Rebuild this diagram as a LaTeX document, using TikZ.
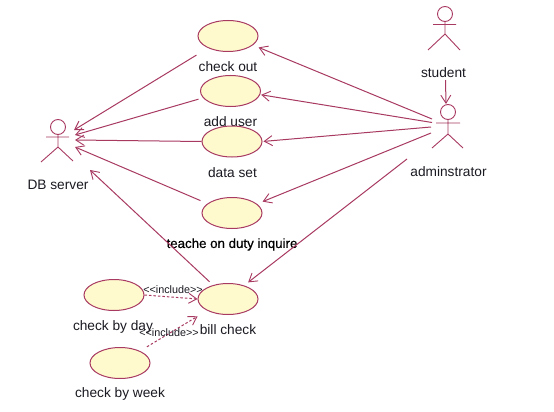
\documentclass[tikz,border=0pt]{standalone}
\usepackage{fontspec}
\setmainfont[Ligatures=NoCommon]{Liberation Sans}
\newfontfamily\incfont[Mapping=]{Liberation Sans}
\newfontfamily\heavyfont[FakeBold=0.5]{Liberation Sans}
\usetikzlibrary{arrows.meta,shapes.geometric}
\definecolor{umlline}{HTML}{A83A62}
\definecolor{umlfill}{HTML}{FFFACD}
\definecolor{umltext}{HTML}{1A1A22}
\tikzset{
  usecase/.style={ellipse,draw=umlline,fill=umlfill,line width=1pt,minimum width=60pt,minimum height=31pt,inner sep=0pt},
  actorhead/.style={circle,draw=umlline,line width=0.9pt,minimum size=15pt,inner sep=0pt},
  limb/.style={draw=umlline,line width=0.9pt},
  lbl/.style={font=\fontsize{13.7}{16}\selectfont,text=umltext,inner sep=0pt},
  inclbl/.style={font=\incfont\fontsize{10.8}{13}\selectfont,text=umltext,inner sep=0pt},
  assoc/.style={draw=umlline,line width=1pt,-{Straight Barb[length=8pt,width=10pt,line width=0.9pt]}},
  dep/.style={assoc,dash pattern=on 2.5pt off 2pt}
}
\begin{document}
\begin{tikzpicture}[x=1pt,y=-1pt]
\useasboundingbox[fill=white] (0,0) rectangle (554,412);
% texts
\node[lbl] (tco) at (228,66.5) {check out};
\node[lbl] (tau) at (230.5,121.5) {add user};
\node[lbl] (tds) at (232.5,173) {data set};
\node[lbl,text=black,font=\fontsize{13.3}{16}\selectfont] (ttq) at (232,244.5) {\heavyfont teache on duty inquire};
\node[lbl] (tbc) at (228,329.5) {bill check};
\node[lbl] (tcd) at (113,326.5) {check by day};
\node[lbl] (tcw) at (120,393.5) {check by week};
\node[lbl] (tdb) at (58,184.5) {DB server};
\node[lbl] (tst) at (443.5,72.5) {student};
\node[lbl] (tad) at (448.5,171.5) {adminstrator};
% use cases
\node[usecase] (co) at (228,36) {};
\node[usecase] (au) at (230.5,91) {};
\node[usecase] (ds) at (232,141.5) {};
\node[usecase] (tq) at (232,213) {};
\node[usecase] (bc) at (228,299) {};
\node[usecase] (cd) at (114,295) {};
\node[usecase] (cw) at (120,363) {};
% actors
\node[actorhead] (db) at (58,127) {};
\draw[limb] (db.south) -- (58,147) (46,137) -- (69,137) (41,162) -- (58,147) -- (73,161);
\node[actorhead] (st) at (445,14) {};
\draw[limb] (st.south) -- (445,34) (433,24.5) -- (456,24.5) (428,50) -- (445,34) -- (460,50);
\node[actorhead] (ad) at (448,112) {};
\draw[limb] (ad.south) -- (448,134) (436,123) -- (460,123) (432,148) -- (448,134) -- (463,148);
% actor ports
\coordinate (db1) at (74,130);
\coordinate (db2) at (75,135);
\coordinate (db3) at (75,140);
\coordinate (db4) at (75,147);
\coordinate (db5) at (90,170);
\coordinate (ad1) at (432,119);
\coordinate (ad2) at (432,122.5);
\coordinate (ad3) at (431,127);
\coordinate (ad4) at (431,133);
\coordinate (ad5) at (407,159);
\coordinate (st1) at (445.5,80);
\coordinate (ad6) at (446,104);
% connectors to DB server
\draw[assoc,shorten <=13.5pt] (co.211) -- (db1);
\draw[assoc,shorten <=4.7pt] (au.194) -- (db2);
\draw[assoc] (ds.west) -- (db3);
\draw[assoc,shorten <=7.5pt] (tq.159) -- (db4);
\draw[assoc,shorten <=4.8pt] (bc.137) -- (db5);
% connectors from administrator
\draw[assoc,shorten >=6pt] (ad1) -- (co.-20);
\draw[assoc,shorten >=1pt] (ad2) -- (au.-7.5);
\draw[assoc,shorten >=1pt] (ad3) -- (ds.east);
\draw[assoc,shorten >=6pt] (ad4) -- (tq.20);
\draw[assoc,shorten >=5pt] (ad5) -- (bc.40);
\draw[assoc] (st1) -- (ad6);
% includes
\draw[dep] (cd.east) -- (bc.west);
\draw[dep,shorten <=8pt,shorten >=11pt] (cw.31.6) -- (bc.209.5);
\node[inclbl] (i1) at (173,289.5) {<<include>>};
\node[inclbl] (i2) at (169,332.5) {<<include>>};
\end{tikzpicture}
\end{document}
